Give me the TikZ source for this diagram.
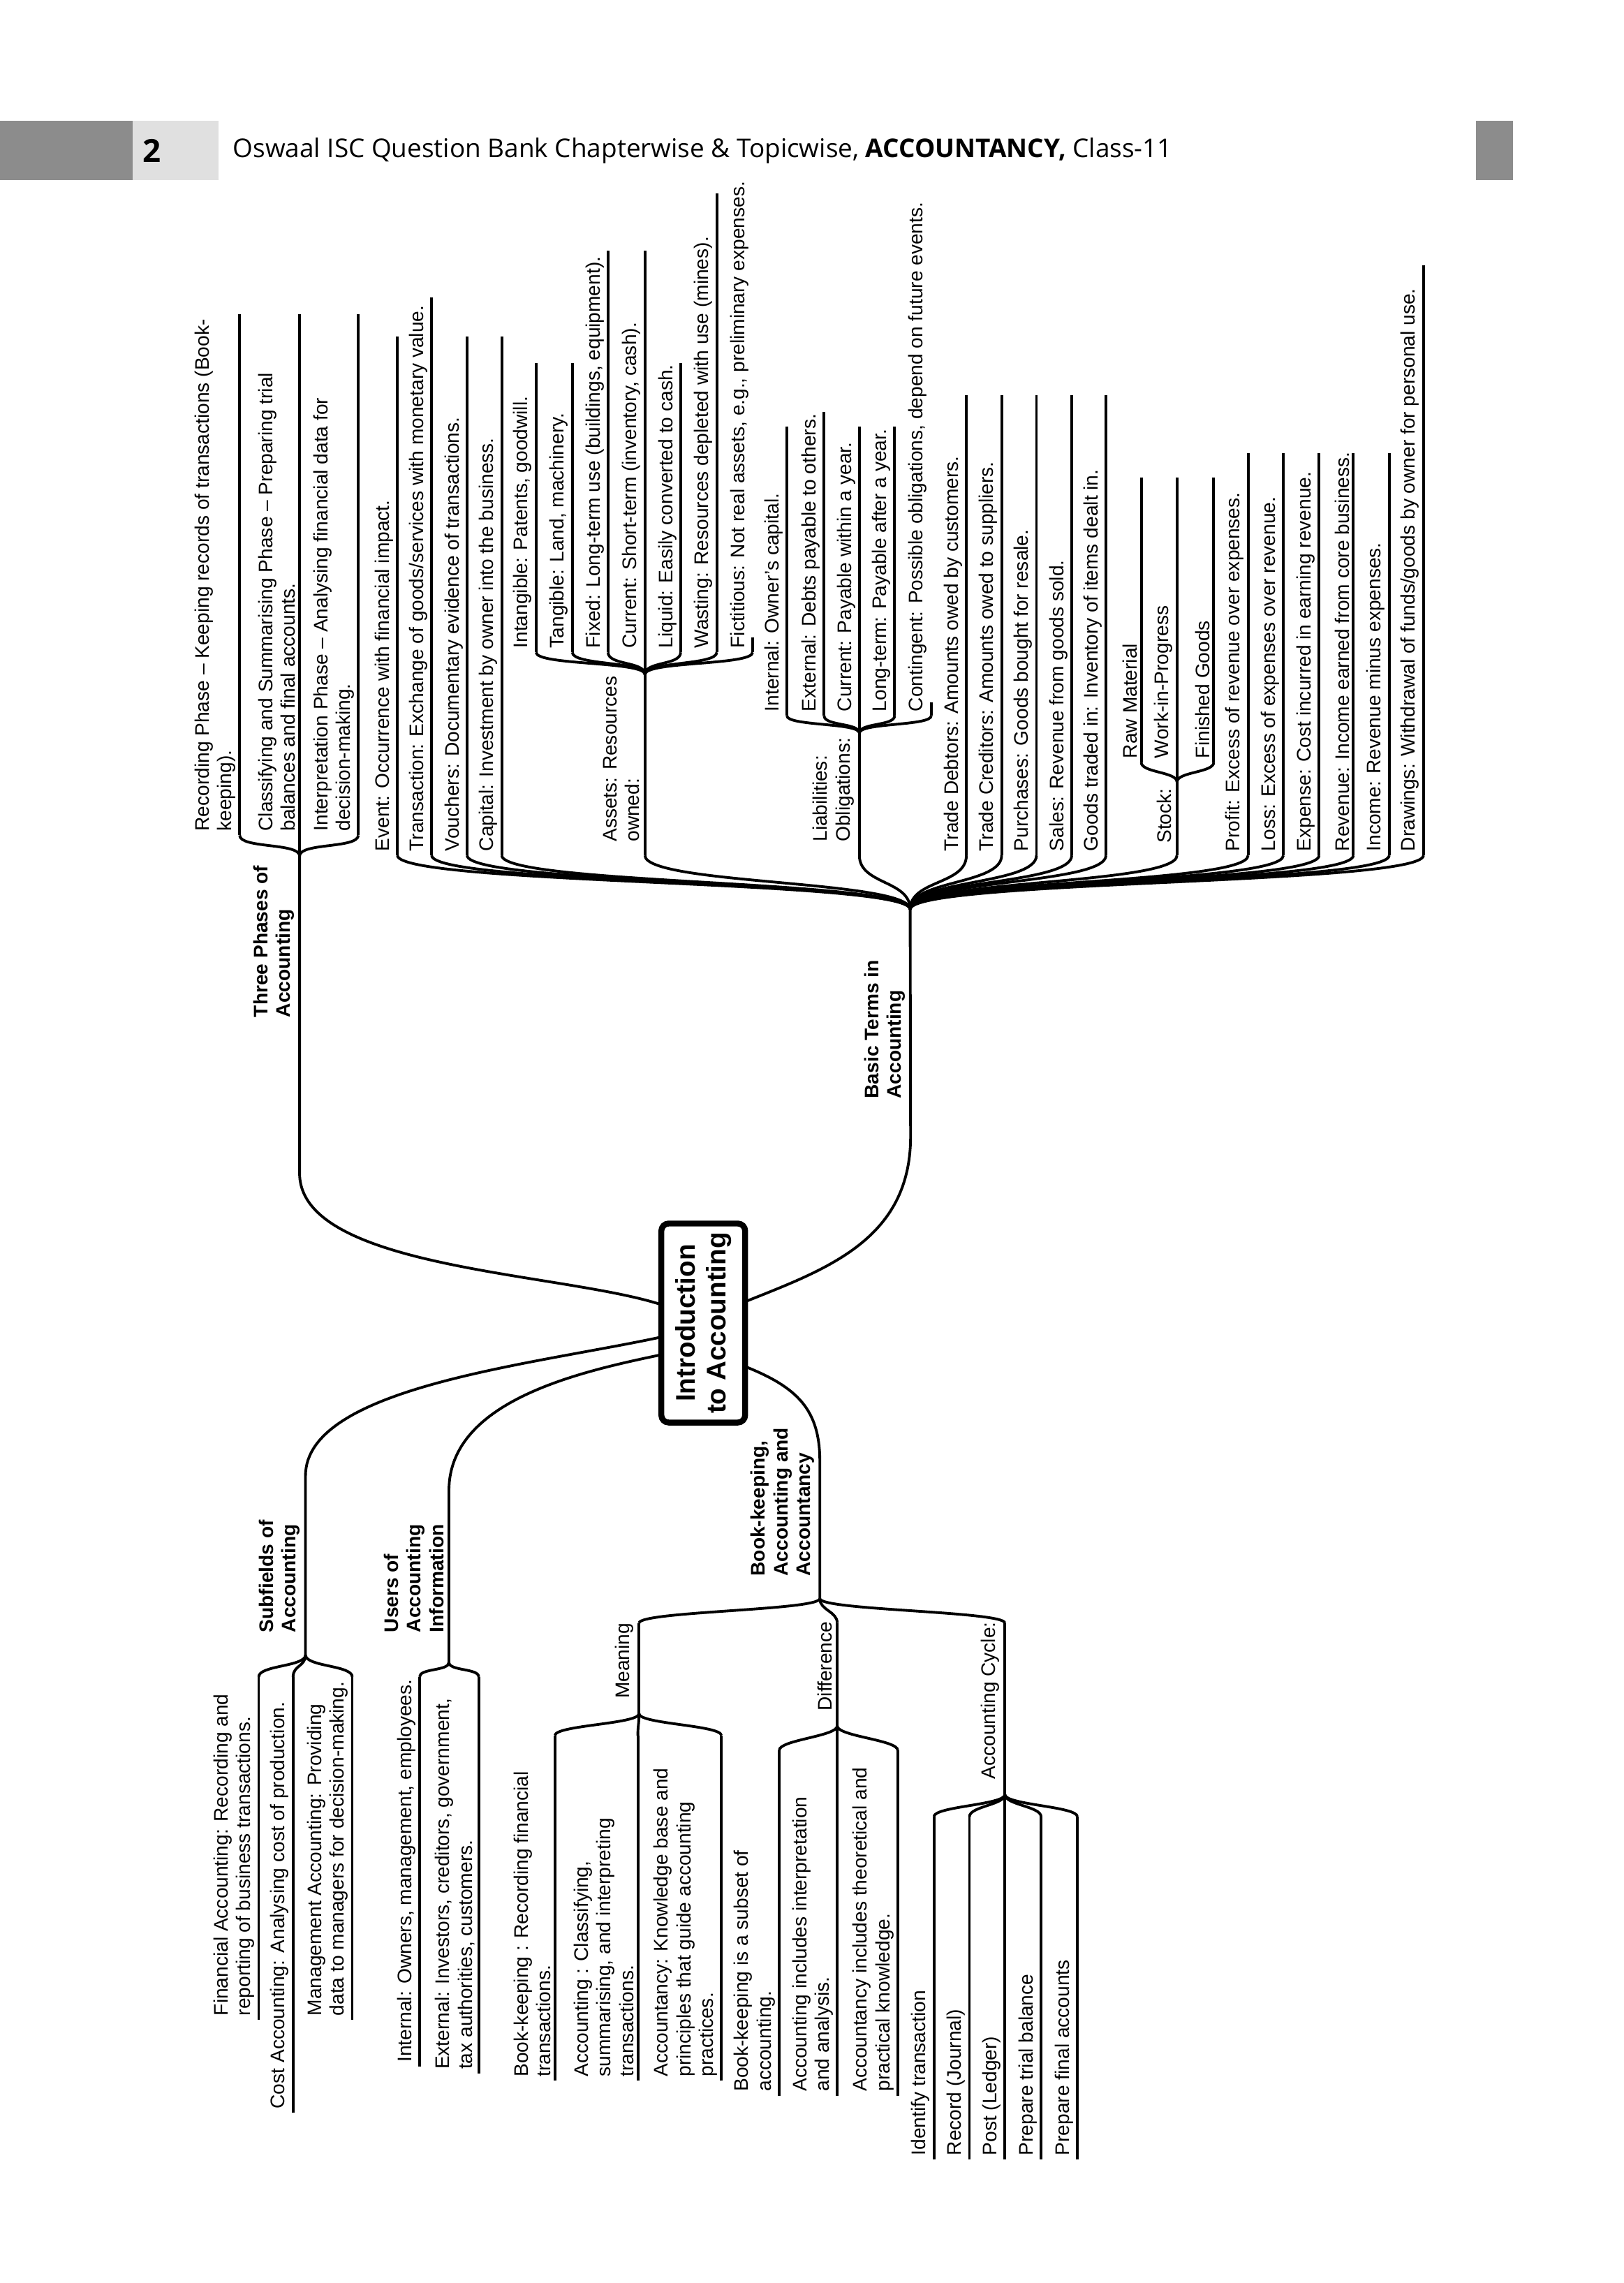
\documentclass[tikz,border=0pt]{standalone}
\usepackage{fontspec}
\setmainfont{Liberation Sans}
\newfontfamily\headfont{Open Sans}
\usetikzlibrary{calc}
\usetikzlibrary{positioning}

\newcommand{\leaffont}{\fontsize{8}{9.2}\selectfont}
\tikzset{
  stem/.style={draw=black, line width=1.1pt},
  leaf/.style={rotate=90, anchor=south west, align=left, inner sep=1.5pt, font=\leaffont},
  branch/.style={leaf, font=\leaffont\bfseries, inner sep=2pt},
  sublabel/.style={leaf, inner sep=2pt},
  hub/.style={draw=black, line width=2.4pt, rounded corners=3pt, rotate=90,
              minimum width=2.85cm, minimum height=1.2cm, align=center,
              font=\fontsize{11}{12.5}\selectfont\bfseries}
}
% a leaf: name, x, y of text end, y of other end, text
\newcommand{\leaf}[5]{%
  \coordinate (#1-b) at (#2,#3);
  \coordinate (#1-t) at (#2,#4);
  \draw[stem] (#1-b) -- (#1-t);
  \node[leaf] (#1) at (#1-b) {#5};}
% a twig from a hub to a leaf end
\newcommand{\twig}[3]{\draw[stem] (#1) .. controls +(0,#3) and +(0,-#3) .. (#2);}

\begin{document}
\begin{tikzpicture}[x=0.021136cm, y=-0.021136cm]
  \useasboundingbox (0,0) rectangle (1100,1547);

  % header
  \fill[black!45] (0,82) rectangle (90,122);
  \fill[black!12] (90,82) rectangle (148,122);
  \fill[black!45] (1000,82) rectangle (1025,122);
  \node[font=\headfont\fontsize{13}{14}\selectfont\bfseries] (pg) at (103,102) {2};
  \node[anchor=west, font=\headfont\fontsize{10.5}{12}\selectfont] (title) at (152,102)
    {Oswaal ISC Question Bank Chapterwise \& Topicwise, \textbf{ACCOUNTANCY,} Class-11};

  % centre
  \node[hub] (intro) at (476.5,896.5) {Introduction\\to Accounting};
  \coordinate (in-tp) at (448,884);
  \coordinate (in-sf) at (448,906);
  \coordinate (in-us) at (448,918);
  \coordinate (in-bt) at (505,882);
  \coordinate (in-bk) at (505,926);

  % three phases
  \coordinate (tp) at (203,580);
  \node[branch] (tp-l) at (203,693) {Three Phases of\\Accounting};
  \draw[stem] (tp) -- (203,795) .. controls (203,860) and (380,862) .. (in-tp);
  \leaf{rec}{162.4}{566}{213}{Recording Phase – Keeping records of transactions (Book-\\keeping).}
  \leaf{cls}{203}{566}{213}{Classifying and Summarising Phase – Preparing trial\\balances and final accounts.}
  \leaf{itp}{242.8}{566}{213}{Interpretation Phase – Analysing financial data for\\decision-making.}
  \foreach \n in {rec,cls,itp} {\twig{tp}{\n-b}{-9}}

  % basic terms
  \coordinate (bt) at (616.7,616.2);
  \node[branch] (bt-l) at (617,748) {Basic Terms in\\Accounting};
  \draw[stem] (bt) -- (617,770) .. controls (617,840) and (560,860) .. (in-bt);
  \leaf{ev}{269.3}{579.6}{227.8}{Event: Occurrence with financial impact.}
  \leaf{tr}{292.5}{579.6}{201.3}{Transaction: Exchange of goods/services with monetary value.}
  \leaf{vo}{316.5}{579.6}{227.8}{Vouchers: Documentary evidence of transactions.}
  \leaf{ca}{340}{579.6}{227.8}{Capital: Investment by owner into the business.}
  \coordinate (as) at (437,457);
  \coordinate (as-b) at (437,579.6);
  \draw[stem] (as-b) -- (as);
  \node[sublabel] (as-l) at (437,574) {Assets: Resources\\owned:};
  \leaf{ai}{363.2}{442}{246}{Intangible: Patents, goodwill.}
  \leaf{at}{387.8}{442}{246}{Tangible: Land, machinery.}
  \leaf{af}{412}{442}{169.7}{Fixed: Long-term use (buildings, equipment).}
  \leaf{ac}{437}{442}{169.7}{Current: Short-term (inventory, cash).}
  \leaf{al}{461.2}{442}{246}{Liquid: Easily converted to cash.}
  \leaf{aw}{485.7}{442}{130.9}{Wasting: Resources depleted with use (mines).}
  \leaf{ax}{510}{442}{432}{Fictitious: Not real assets, e.g., preliminary expenses.}
  \foreach \n in {ai,at,af,ac,al,aw,ax} {\twig{as}{\n-b}{-9}}
  \coordinate (li) at (582.3,496.7);
  \coordinate (li-b) at (582.3,579.6);
  \draw[stem] (li-b) -- (li);
  \node[sublabel] (li-l) at (582.3,574) {Liabilities:\\Obligations:};
  \leaf{lin}{533.2}{485}{289.2}{Internal: Owner’s capital.}
  \leaf{lex}{558.4}{485}{279.3}{External: Debts payable to others.}
  \leaf{lcu}{582.3}{485}{289.2}{Current: Payable within a year.}
  \leaf{llo}{606.2}{485}{289.2}{Long-term: Payable after a year.}
  \leaf{lco}{631}{485}{476}{Contingent: Possible obligations, depend on future events.}
  \foreach \n in {lin,lex,lcu,llo,lco} {\twig{li}{\n-b}{-7}}
  \leaf{td}{654.8}{579.6}{267.7}{Trade Debtors: Amounts owed by customers.}
  \leaf{tc}{678.7}{579.6}{267.7}{Trade Creditors: Amounts owed to suppliers.}
  \leaf{pu}{702.3}{579.6}{267.7}{Purchases: Goods bought for resale.}
  \leaf{sa}{726.2}{579.6}{267.7}{Sales: Revenue from goods sold.}
  \leaf{gt}{749.4}{579.6}{267.7}{Goods traded in: Inventory of items dealt in.}
  \coordinate (st) at (797.5,529.9);
  \coordinate (st-b) at (797.5,579.6);
  \draw[stem] (st-b) -- (st);
  \node[sublabel] (st-l) at (797.5,575) {Stock:};
  \leaf{sr}{773.3}{516.6}{323.4}{Raw Material}
  \leaf{sw}{797.5}{516.6}{323.4}{Work-in-Progress}
  \leaf{sg}{822.4}{516.6}{323.4}{Finished Goods}
  \foreach \n in {sr,sw,sg} {\twig{st}{\n-b}{-7}}
  \leaf{pr}{845.7}{579.6}{306.8}{Profit: Excess of revenue over expenses.}
  \leaf{lo}{869.6}{579.6}{306.8}{Loss: Excess of expenses over revenue.}
  \leaf{ex}{893.8}{579.6}{306.8}{Expense: Cost incurred in earning revenue.}
  \leaf{re}{917}{579.6}{306.8}{Revenue: Income earned from core business.}
  \leaf{inc}{941.3}{579.6}{306.8}{Income: Revenue minus expenses.}
  \leaf{dr}{964.5}{579.6}{179.7}{Drawings: Withdrawal of funds/goods by owner for personal use.}
  \foreach \n in {ev,tr,vo,ca,as,li,td,tc,pu,sa,gt,st,pr,lo,ex,re,inc,dr} {\twig{bt}{\n-b}{-20}}

  % subfields
  \coordinate (sf) at (207,1121.4);
  \node[branch] (sf-l) at (207,1109.8) {Subfields of\\Accounting};
  \draw[stem] (in-sf) .. controls (360,925) and (207,940) .. (207,1000) -- (sf);
  \leaf{fa}{175.3}{1368.7}{1136.3}{Financial Accounting: Recording and\\reporting of business transactions.}
  \leaf{co}{198.6}{1431.7}{1136.3}{Cost Accounting: Analysing cost of production.}
  \leaf{ma}{238.7}{1368.7}{1136.3}{Management Accounting: Providing\\data to managers for decision-making.}
  \foreach \n in {fa,co,ma} {\twig{sf}{\n-t}{8}}

  % users
  \coordinate (us) at (304.2,1126.4);
  \node[branch] (us-l) at (304.2,1109.8) {Users of\\Accounting\\Information};
  \draw[stem] (in-us) .. controls (390,930) and (304.2,950) .. (304.2,1010) -- (us);
  \leaf{ui}{284.3}{1400.2}{1136.3}{Internal: Owners, management, employees.}
  \leaf{ue}{324.4}{1405}{1136.3}{External: Investors, creditors, government,\\tax authorities, customers.}
  \foreach \n in {ui,ue} {\twig{us}{\n-t}{6}}

  % book-keeping
  \coordinate (bk) at (555.5,1083.2);
  \node[branch] (bk-l) at (555.5,1071.6) {Book-keeping,\\Accounting and\\Accountancy};
  \draw[stem] (in-bk) .. controls (540,940) and (555.5,955) .. (555.5,990) -- (bk);
  \coordinate (me-t) at (433,1099.8);
  \coordinate (me) at (433,1161.2);
  \coordinate (di-t) at (567.3,1099.8);
  \coordinate (di) at (567.3,1169.5);
  \coordinate (cy-t) at (680.9,1099.8);
  \coordinate (cy) at (680.9,1216);
  \draw[stem] (me-t) -- (me);
  \draw[stem] (di-t) -- (di);
  \draw[stem] (cy-t) -- (cy);
  \foreach \n in {me,di,cy} {\twig{bk}{\n-t}{8}}
  \node[sublabel] (me-l) at (433,1154.6) {Meaning};
  \node[sublabel] (di-l) at (567.3,1162.9) {Difference};
  \node[sublabel] (cy-l) at (680.9,1209.3) {Accounting Cycle:};
  \leaf{mb}{376}{1410}{1176}{Book-keeping : Recording financial\\transactions.}
  \leaf{mc}{432.2}{1410}{1176}{Accounting : Classifying,\\summarising, and interpreting\\transactions.}
  \leaf{md}{488.8}{1410}{1176}{Accountancy: Knowledge base and\\principles that guide accounting\\practices.}
  \foreach \n in {mb,mc,md} {\twig{me}{\n-t}{7}}
  \leaf{da}{528}{1420}{1186}{Book-keeping is a subset of\\accounting.}
  \leaf{db}{567.3}{1420}{1186}{Accounting includes interpretation\\and analysis.}
  \leaf{dc}{608.3}{1420}{1186}{Accountancy includes theoretical and\\practical knowledge.}
  \foreach \n in {da,db,dc} {\twig{di}{\n-t}{7}}
  \leaf{c1}{632.8}{1463.3}{1231}{Identify transaction}
  \leaf{c2}{656.9}{1463.3}{1231}{Record (Journal)}
  \leaf{c3}{680.9}{1463.3}{1231}{Post (Ledger)}
  \leaf{c4}{705.4}{1463.3}{1231}{Prepare trial balance}
  \leaf{c5}{730}{1463.3}{1231}{Prepare final accounts}
  \foreach \n in {c1,c2,c3,c4,c5} {\twig{cy}{\n-t}{7}}
\end{tikzpicture}
\end{document}
